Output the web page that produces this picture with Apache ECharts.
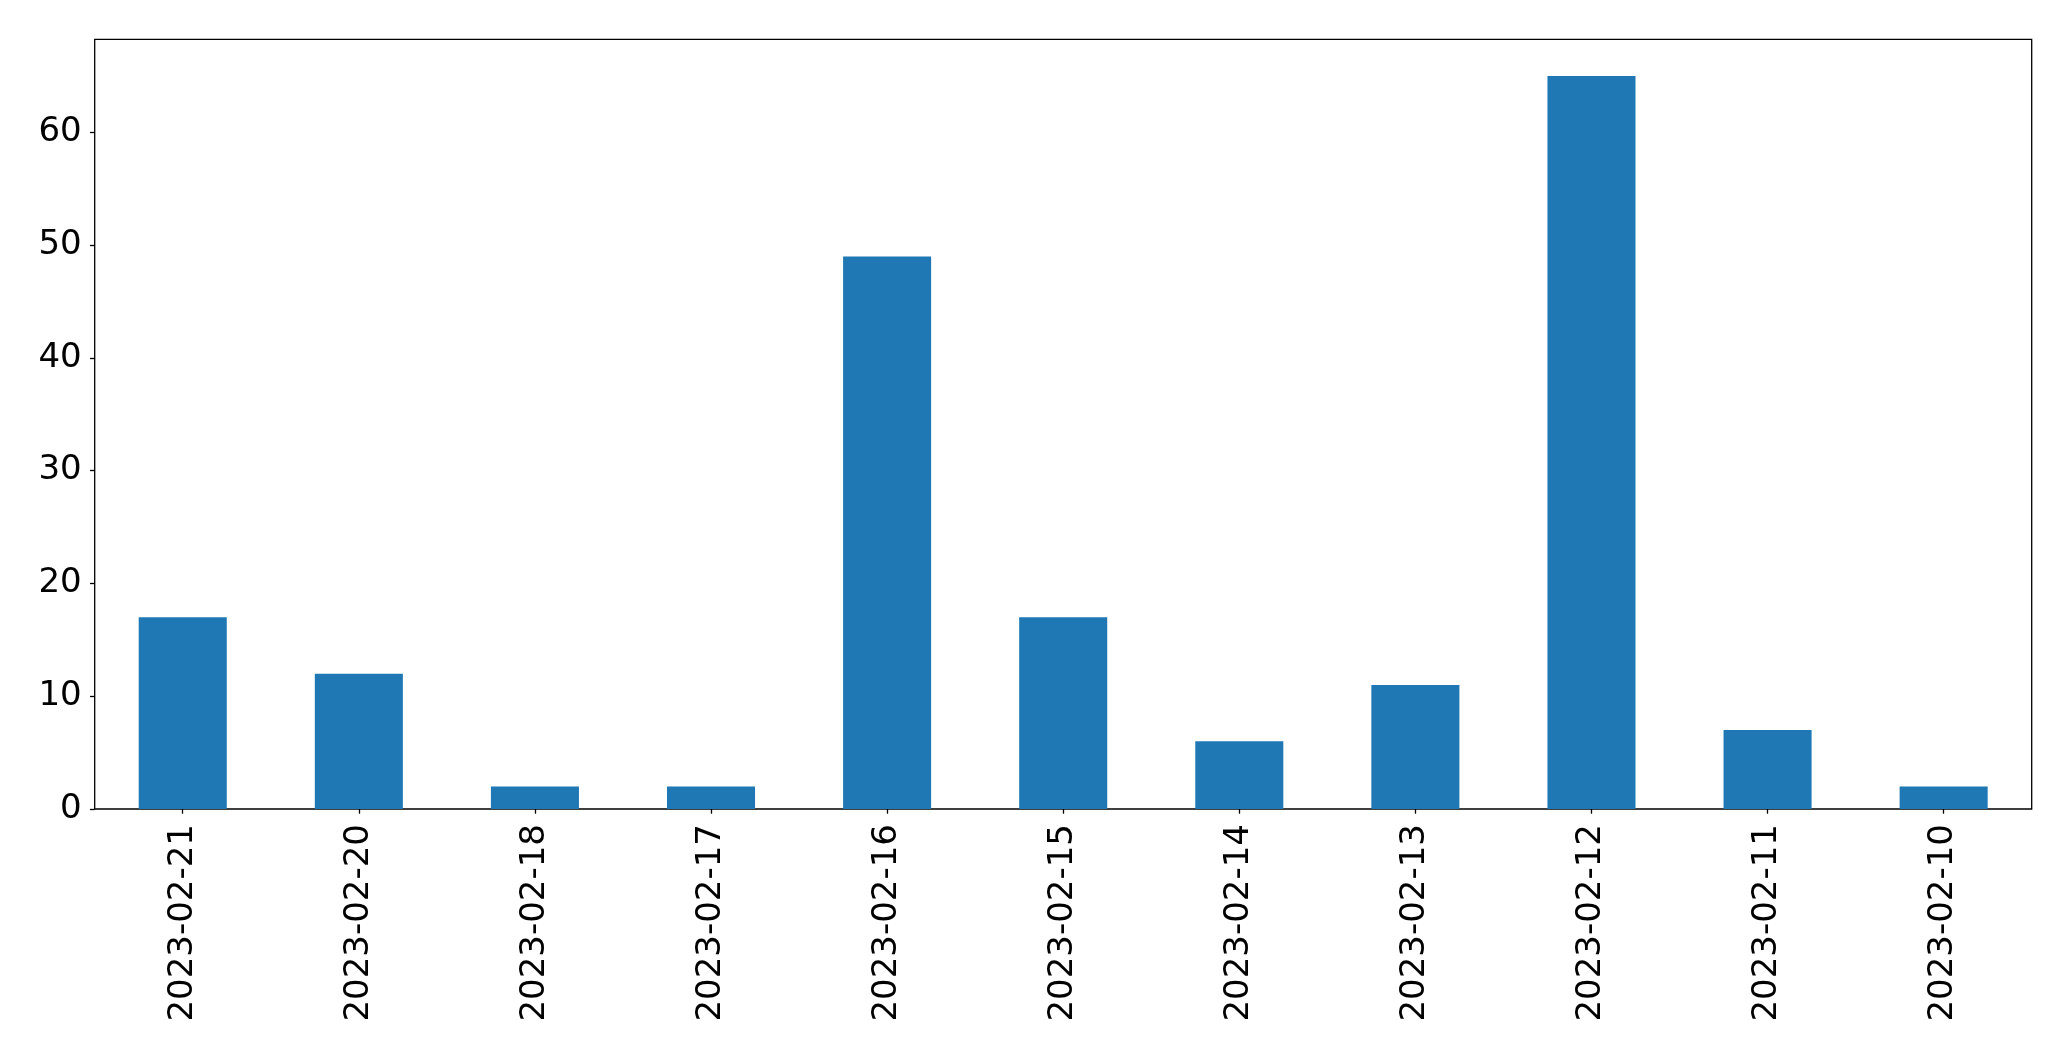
<!DOCTYPE html>
<html><head><meta charset="utf-8">
<script src="https://cdn.jsdelivr.net/npm/echarts@6/dist/echarts.min.js"></script>
<style>html,body{margin:0;padding:0;background:#fff}#c{width:2071px;height:1061px}</style>
</head><body><div id="c"></div>
<script>
var categories = ["2023-02-21","2023-02-20","2023-02-18","2023-02-17","2023-02-16","2023-02-15","2023-02-14","2023-02-13","2023-02-12","2023-02-11","2023-02-10"];
var values = [17, 12, 2, 2, 49, 17, 6, 11, 65, 7, 2];
var yTicks = [0, 10, 20, 30, 40, 50, 60];

var chart = echarts.init(document.getElementById('c'), null, {renderer: 'canvas'});
var font = '"DejaVu Sans", sans-serif';
chart.setOption({
  animation: false,
  grid: {left: 94.7, right: 39.3, top: 39.3, bottom: 252, show: true, borderColor: '#000', borderWidth: 1.3, backgroundColor: 'transparent'},
  xAxis: {
    type: 'category', data: categories,
    axisLine: {show: false},
    axisTick: {show: true, alignWithLabel: true, length: 4.7, lineStyle: {color: '#000', width: 1.3}},
    axisLabel: {rotate: 90, color: '#000', fontSize: 34, fontFamily: font, margin: 15, interval: 0}
  },
  yAxis: {
    type: 'value', min: 0, max: 68.25, interval: 10,
    splitLine: {show: false},
    axisLine: {show: false},
    axisTick: {show: true, length: 4.7, customValues: yTicks, lineStyle: {color: '#000', width: 1.3}},
    axisLabel: {color: '#000', fontSize: 34, fontFamily: font, margin: 13, customValues: yTicks}
  },
  series: [{
    type: 'bar', data: values, barWidth: '50%',
    itemStyle: {color: '#1f77b4'}
  }]
});
</script></body></html>
